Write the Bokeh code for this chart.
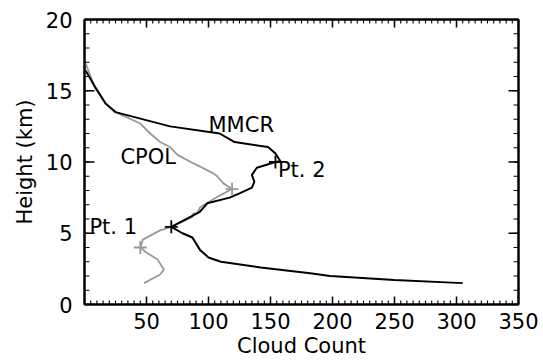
import math
from bokeh.plotting import figure
from bokeh.models import LinearAxis, FixedTicker, Range1d, Label
from bokeh.embed import file_html
from bokeh.resources import INLINE

# ---- data ----
mmcr_count = [1, 9, 17, 25, 69, 109, 121, 148, 154, 158, 154, 139, 135, 137, 135, 125, 117, 99, 93,
              80, 70, 79, 87, 93, 100, 110, 142, 182, 198, 250, 305]
mmcr_height = [16.4, 15.2, 14.1, 13.5, 12.5, 12.0, 11.4, 11.05, 10.6, 10.05, 10.0, 9.6, 9.1, 8.6, 8.2,
               7.8, 7.5, 7.1, 6.5, 5.9, 5.45, 5.0, 4.7, 3.85, 3.3, 3.0, 2.6, 2.2, 2.0, 1.72, 1.5]

cpol_count = [1, 8, 17, 25, 45, 53, 61, 69, 75, 88, 104, 107, 112, 119, 107, 93, 91, 88, 87, 70,
              61, 47, 45, 49, 59, 64, 61, 48]
cpol_height = [16.9, 15.3, 14.1, 13.5, 12.7, 12.0, 11.4, 11.05, 10.5, 9.9, 9.2, 9.0, 8.5, 8.1, 7.55,
               6.8, 6.4, 6.4, 6.15, 5.45, 5.2, 4.55, 4.0, 3.7, 3.15, 2.45, 2.1, 1.5]

mmcr_pts_count = [70, 154]
mmcr_pts_height = [5.45, 10.0]
cpol_pts_count = [119, 45]
cpol_pts_height = [8.1, 4.0]

label_text = ["MMCR", "CPOL", "Pt. 2", "Pt. 1"]
label_x = [100, 29, 156, 4]
label_y = [12.6, 10.35, 9.45, 5.45]

x_range = (0, 350)
y_range = (0, 20)
x_ticks = [50, 100, 150, 200, 250, 300, 350]
x_minor = list(range(0, 351, 5))
y_ticks = [0, 5, 10, 15, 20]
y_minor = list(range(0, 21, 1))

FONT = "DejaVu Sans"
FS = "21px"

p = figure(width=543, height=360, x_range=Range1d(*x_range), y_range=Range1d(*y_range),
           output_backend="svg", toolbar_location=None,
           min_border_left=84, min_border_right=25, min_border_top=19, min_border_bottom=55,
           x_axis_label="Cloud Count", y_axis_label="Height (km)")
p.grid.visible = False
p.outline_line_color = "black"
p.outline_line_width = 2
p.background_fill_color = "white"
p.border_fill_color = "white"


def style_axis(ax, ticks, minor, labels=True):
    ax.ticker = FixedTicker(ticks=ticks, minor_ticks=minor)
    ax.axis_line_color = "black"
    ax.axis_line_width = 2
    ax.major_tick_in = 0
    ax.major_tick_out = 0
    ax.minor_tick_in = 0
    ax.minor_tick_out = 0
    ax.major_label_text_font = FONT
    ax.major_label_text_font_size = FS
    ax.major_label_text_color = "black"
    ax.axis_label_text_font = FONT
    ax.axis_label_text_font_size = FS
    ax.axis_label_text_font_style = "normal"
    ax.axis_label_text_color = "black"
    if not labels:
        ax.major_label_overrides = {t: "" for t in ticks}


xa = p.xaxis[0]
style_axis(xa, x_ticks, x_minor)
xa.major_label_standoff = 8
xa.axis_label_standoff = 2

ya = p.yaxis[0]
style_axis(ya, y_ticks, y_minor)
ya.major_label_standoff = 12
ya.axis_label_standoff = 6

top = LinearAxis()
style_axis(top, x_ticks, x_minor, labels=False)
top.major_label_standoff = 0
p.add_layout(top, "above")

right = LinearAxis()
style_axis(right, y_ticks, y_minor, labels=False)
right.major_label_standoff = 0
p.add_layout(right, "right")

# inward tick marks (dash markers centred on the frame edge; the outer half is clipped by the frame)
for yedge in y_range:
    p.scatter(x_minor, [yedge] * len(x_minor), marker="dash", angle=math.pi / 2, size=8,
              line_color="black", line_width=1.1)
    p.scatter(x_ticks, [yedge] * len(x_ticks), marker="dash", angle=math.pi / 2, size=16,
              line_color="black", line_width=1.5)
for xedge in x_range:
    p.scatter([xedge] * len(y_minor), y_minor, marker="dash", size=10,
              line_color="black", line_width=1.1)
    p.scatter([xedge] * len(y_ticks), y_ticks, marker="dash", size=20,
              line_color="black", line_width=1.5)

p.line(cpol_count, cpol_height, line_color="#999999", line_width=1.8)
p.line(mmcr_count, mmcr_height, line_color="black", line_width=2)
p.scatter(cpol_pts_count, cpol_pts_height, marker="cross", size=13, line_color="#999999", line_width=1.8)
p.scatter(mmcr_pts_count, mmcr_pts_height, marker="cross", size=13, line_color="black", line_width=1.8)

for t, x, y in zip(label_text, label_x, label_y):
    p.add_layout(Label(x=x, y=y, text=t, text_font=FONT, text_font_size=FS,
                       text_align="left", text_baseline="middle", text_color="black"))

open("out.html", "w").write(file_html(p, INLINE))
